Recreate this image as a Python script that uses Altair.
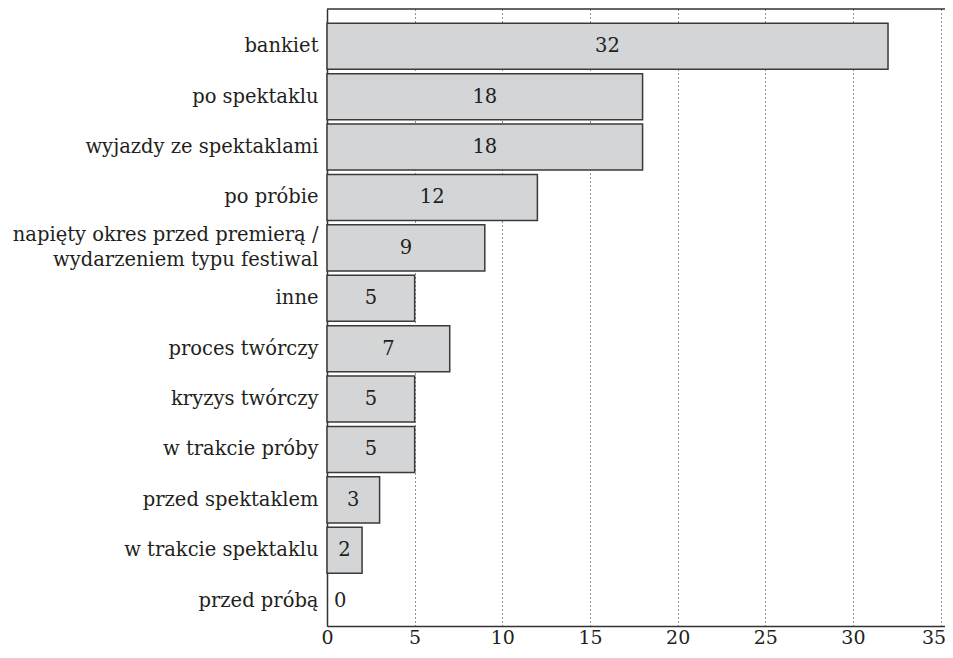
import altair as alt
import pandas as pd

categories = [
    "bankiet",
    "po spektaklu",
    "wyjazdy ze spektaklami",
    "po próbie",
    "napięty okres przed premierą /\nwydarzeniem typu festiwal",
    "inne",
    "proces twórczy",
    "kryzys twórczy",
    "w trakcie próby",
    "przed spektaklem",
    "w trakcie spektaklu",
    "przed próbą",
]
values = [32, 18, 18, 12, 9, 5, 7, 5, 5, 3, 2, 0]
x_ticks = [0, 5, 10, 15, 20, 25, 30, 35]

df = pd.DataFrame({"cat": categories, "v": values})

W = 618
H = 617
FONT = "DejaVu Serif"
FS = 19.5
TXT = "#231f20"

y_enc = alt.Y(
    "cat:N",
    sort=categories,
    title=None,
    scale=alt.Scale(paddingInner=0.087, paddingOuter=0.1645, align=0.86),
    axis=alt.Axis(
        labelExpr="split(datum.label, '\\n')",
        labelFont=FONT,
        labelFontSize=FS,
        labelColor=TXT,
        labelPadding=9,
        labelLineHeight=25,
        labelOffset={"condition": {"test": "length(datum.value) > 40", "value": -12.5}, "value": 0},
        ticks=False,
        domainColor="#333333",
        domainWidth=1.5,
        labelLimit=400,
    ),
)

x_enc = alt.X(
    "v:Q",
    title=None,
    scale=alt.Scale(domain=[0, 35.25], nice=False, zero=True),
    axis=alt.Axis(
        values=x_ticks,
        grid=True,
        gridDash=[1, 3],
        gridColor="#222222",
        gridWidth=1,
        ticks=False,
        labelFont=FONT,
        labelFontSize=19,
        labelColor=TXT,
        labelPadding=2,
        labelAlign={"condition": {"test": "datum.value == 35", "value": "right"}, "value": "center"},
        labelOffset={"condition": {"test": "datum.value == 35", "value": 5}, "value": 0},
        domainColor="#333333",
        domainWidth=1.5,
        labelFlush=False,
    ),
)

bars = alt.Chart(df).transform_filter("datum.v > 0").mark_bar(
    fill="#d4d5d7", stroke="#3a3a3a", strokeWidth=1.5
).encode(x=x_enc, y=y_enc)

labels = alt.Chart(df).transform_calculate(
    mid="datum.v > 0 ? datum.v / 2 : 0.75"
).mark_text(
    font=FONT, fontSize=FS, color=TXT, baseline="middle", align="center"
).encode(
    x=alt.X("mid:Q"),
    y=alt.Y("cat:N", sort=categories),
    text=alt.Text("v:Q"),
)

top_rule = alt.Chart(pd.DataFrame({"a": [0]})).mark_rule(
    color="#333333", strokeWidth=1.5
).encode(x=alt.value(0), x2=alt.value(W), y=alt.value(0))

chart = alt.layer(top_rule, bars, labels).properties(
    width=W,
    height=H,
    autosize=alt.AutoSizeParams(type="none"),
    padding={"left": 319, "top": 1, "right": 0, "bottom": 24},
).configure_view(stroke=None)

chart.save("out.html", embed_options={"renderer": "svg", "actions": False})
